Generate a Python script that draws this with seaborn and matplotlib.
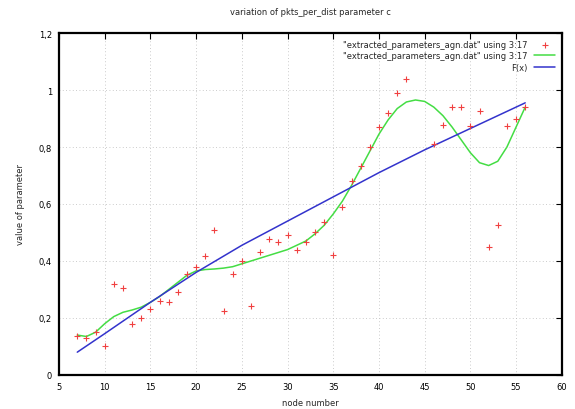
import matplotlib
matplotlib.use("Agg")
import matplotlib.pyplot as plt
import numpy as np
import pandas as pd
import seaborn as sns

# measured points (node number -> parameter c)
nodes = [7, 8, 9, 10, 11, 12, 13, 14, 15, 16, 17, 18, 19, 20, 21, 22, 23, 24, 25,
         26, 27, 28, 29, 30, 31, 32, 33, 34, 35, 36, 37, 38, 39, 40, 41, 42, 43,
         46, 47, 48, 49, 50, 51, 52, 53, 54, 55, 56]
values = [0.137, 0.13, 0.15, 0.10, 0.32, 0.305, 0.18, 0.20, 0.23, 0.26, 0.256, 0.29,
          0.354, 0.38, 0.418, 0.51, 0.225, 0.354, 0.40, 0.243, 0.43, 0.477, 0.466,
          0.49, 0.44, 0.466, 0.50, 0.537, 0.42, 0.59, 0.68, 0.733, 0.80, 0.87, 0.92,
          0.99, 1.04, 0.81, 0.877, 0.94, 0.94, 0.875, 0.925, 0.45, 0.525, 0.873,
          0.90, 0.94]

# smoothed curve
smooth_x = [7, 8, 9, 10, 11, 12, 13, 14, 15, 16, 17, 18, 19, 20, 21, 22, 23, 24, 25,
            26, 27, 28, 29, 30, 31, 32, 33, 34, 35, 36, 37, 38, 39, 40, 41, 42, 43,
            44, 45, 46, 47, 48, 49, 50, 51, 52, 53, 54, 55, 56]
smooth_y = [0.14, 0.135, 0.15, 0.18, 0.205, 0.22, 0.228, 0.238, 0.255, 0.275, 0.30,
            0.325, 0.35, 0.365, 0.37, 0.372, 0.375, 0.38, 0.39, 0.40, 0.41, 0.42,
            0.43, 0.44, 0.455, 0.47, 0.495, 0.525, 0.565, 0.61, 0.665, 0.725, 0.785,
            0.845, 0.895, 0.935, 0.958, 0.965, 0.96, 0.94, 0.91, 0.87, 0.825, 0.78,
            0.745, 0.735, 0.75, 0.80, 0.87, 0.94]

# fitted function F(x)
fit_x = [7, 10, 15, 20, 25, 30, 35, 40, 45, 50, 56]
fit_y = [0.08, 0.145, 0.255, 0.36, 0.455, 0.54, 0.625, 0.71, 0.79, 0.865, 0.955]

label_data = '"extracted_parameters_agn.dat" using 3:17'
label_fit = 'F(x)'

sns.set_style("white")
plt.rcParams["font.family"] = ["DejaVu Sans"]
plt.rcParams["font.size"] = 6

fig = plt.figure(figsize=(5.75, 4.1), dpi=100)
ax = fig.add_axes([0.1026, 0.083, 0.8744, 0.834])

pts = pd.DataFrame({"x": nodes, "y": values})
sm = pd.DataFrame({"x": smooth_x, "y": smooth_y})
ft = pd.DataFrame({"x": fit_x, "y": fit_y})

sns.scatterplot(data=pts, x="x", y="y", ax=ax, marker="+", color="#f04040",
                s=13, linewidth=0.8, label=label_data, zorder=3)
sns.lineplot(data=sm, x="x", y="y", ax=ax, color="#44dd44", linewidth=1.1,
             estimator=None, sort=False, label=label_data, zorder=2)
sns.lineplot(data=ft, x="x", y="y", ax=ax, color="#3333cc", linewidth=1.1,
             estimator=None, sort=False, label=label_fit, zorder=2)

ax.set_xlim(5, 60)
ax.set_ylim(0, 1.2)
ax.set_xticks(range(5, 61, 5))
ax.set_yticks([0, 0.2, 0.4, 0.6, 0.8, 1.0, 1.2])
ax.set_yticklabels(["0", "0,2", "0,4", "0,6", "0,8", "1", "1,2"])
ax.grid(True, color="#bbbbbb", linestyle=(0, (1, 3)), linewidth=0.6)
ax.tick_params(direction="in", length=4, width=0.8, top=True, right=True,
               labelsize=6, colors="black", pad=5)
for sp in ax.spines.values():
    sp.set_linewidth(1.6)
    sp.set_color("black")

ax.set_title("variation of pkts_per_dist parameter c", fontsize=6, pad=14)
ax.set_xlabel("node number", fontsize=6, labelpad=5)
ax.set_ylabel("value of parameter", fontsize=6, labelpad=10)

leg = ax.legend(loc="upper right", frameon=False, markerfirst=False,
                fontsize=6, handlelength=2.5, borderaxespad=0.4,
                labelspacing=0.3)
for t in leg.get_texts():
    t.set_ha("right")

fig.savefig("out.png", dpi=100)
